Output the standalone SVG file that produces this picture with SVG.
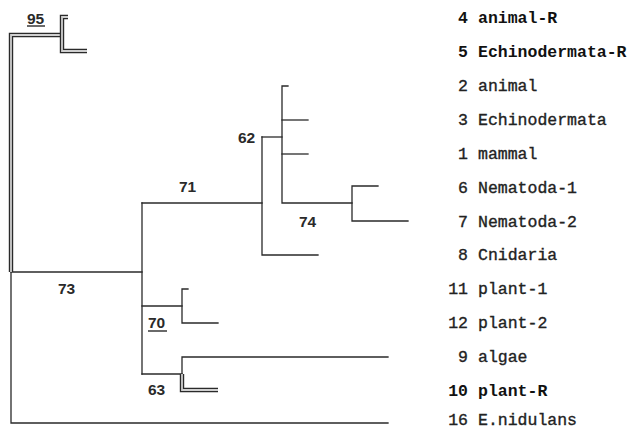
<svg xmlns="http://www.w3.org/2000/svg" width="630" height="430" viewBox="0 0 630 430">
<style>
.ln{fill:none;stroke:#2a2a2a;stroke-width:1.3;stroke-linecap:square}
.dbo{fill:none;stroke:#2a2a2a;stroke-width:4.4}
.dbi{fill:none;stroke:#cfcfcf;stroke-width:1.8}
.lab{font-family:"Liberation Mono","Courier New",monospace;font-size:16.5px;fill:#222;stroke:#222;stroke-width:0.35}
.r{font-weight:bold;stroke:none;fill:#111}
.sup{font-family:"Liberation Sans",Arial,sans-serif;font-size:15.5px;font-weight:bold;fill:#2a2a2a}
.ul{stroke:#2a2a2a;stroke-width:1.4}
</style>
<rect width="630" height="430" fill="#fff"/>
<g id="connectors">
<path class="ln" d="M11,272 V423 H388"/>
<path class="ln" d="M11,272 H142"/>
<path class="ln" d="M142,203 V374"/>
<path class="ln" d="M142,203 H262"/>
<path class="ln" d="M262,137 V255 H318"/>
<path class="ln" d="M262,137 H282"/>
<path class="ln" d="M288,86 H282 V203 H352"/>
<path class="ln" d="M282,120 H308"/>
<path class="ln" d="M282,154 H308"/>
<path class="ln" d="M378,186 H352 V221 H408"/>
<path class="ln" d="M142,306 H182"/>
<path class="ln" d="M188,289 H182 V323 H218"/>
<path class="ln" d="M142,374 H182"/>
<path class="ln" d="M388,357 H182 V374"/>
<path class="dbo" d="M11,272 V35 H62"/>
<path class="dbi" d="M11,272 V35 H62"/>
<path class="dbo" d="M68,17 H62 V51 H87"/>
<path class="dbi" d="M68,17 H62 V51 H87"/>
<path class="dbo" d="M182,374 V390 H218"/>
<path class="dbi" d="M182,374 V390 H218"/>
</g>
<g id="n95"><text class="sup" x="27" y="23.5">95</text><line class="ul" x1="27" y1="26" x2="45" y2="26"/></g>
<g id="n71"><text class="sup" x="179" y="192">71</text></g>
<g id="n74"><text class="sup" x="299" y="227">74</text></g>
<g id="n62"><text class="sup" x="238" y="143">62</text></g>
<g id="n73"><text class="sup" x="58" y="294">73</text></g>
<g id="n70"><text class="sup" x="148" y="328">70</text><line class="ul" x1="148" y1="331" x2="167" y2="331"/></g>
<g id="n63"><text class="sup" x="148" y="395">63</text></g>
<g id="leaf4"><text class="lab r" x="468" y="23" text-anchor="end">4</text><text class="lab r" x="478" y="23">animal-R</text></g>
<g id="leaf5"><text class="lab r" x="468" y="57" text-anchor="end">5</text><text class="lab r" x="478" y="57">Echinodermata-R</text></g>
<g id="leaf2"><text class="lab" x="468" y="91" text-anchor="end">2</text><text class="lab" x="478" y="91">animal</text></g>
<g id="leaf3"><text class="lab" x="468" y="125" text-anchor="end">3</text><text class="lab" x="478" y="125">Echinodermata</text></g>
<g id="leaf1"><text class="lab" x="468" y="159" text-anchor="end">1</text><text class="lab" x="478" y="159">mammal</text></g>
<g id="leaf6"><text class="lab" x="468" y="193" text-anchor="end">6</text><text class="lab" x="478" y="193">Nematoda-1</text></g>
<g id="leaf7"><text class="lab" x="468" y="227" text-anchor="end">7</text><text class="lab" x="478" y="227">Nematoda-2</text></g>
<g id="leaf8"><text class="lab" x="468" y="260" text-anchor="end">8</text><text class="lab" x="478" y="260">Cnidaria</text></g>
<g id="leaf11"><text class="lab" x="468" y="294" text-anchor="end">11</text><text class="lab" x="478" y="294">plant-1</text></g>
<g id="leaf12"><text class="lab" x="468" y="328" text-anchor="end">12</text><text class="lab" x="478" y="328">plant-2</text></g>
<g id="leaf9"><text class="lab" x="468" y="362" text-anchor="end">9</text><text class="lab" x="478" y="362">algae</text></g>
<g id="leaf10"><text class="lab r" x="468" y="396" text-anchor="end">10</text><text class="lab r" x="478" y="396">plant-R</text></g>
<g id="leaf16"><text class="lab" x="468" y="425" text-anchor="end">16</text><text class="lab" x="478" y="425">E.nidulans</text></g>
</svg>
